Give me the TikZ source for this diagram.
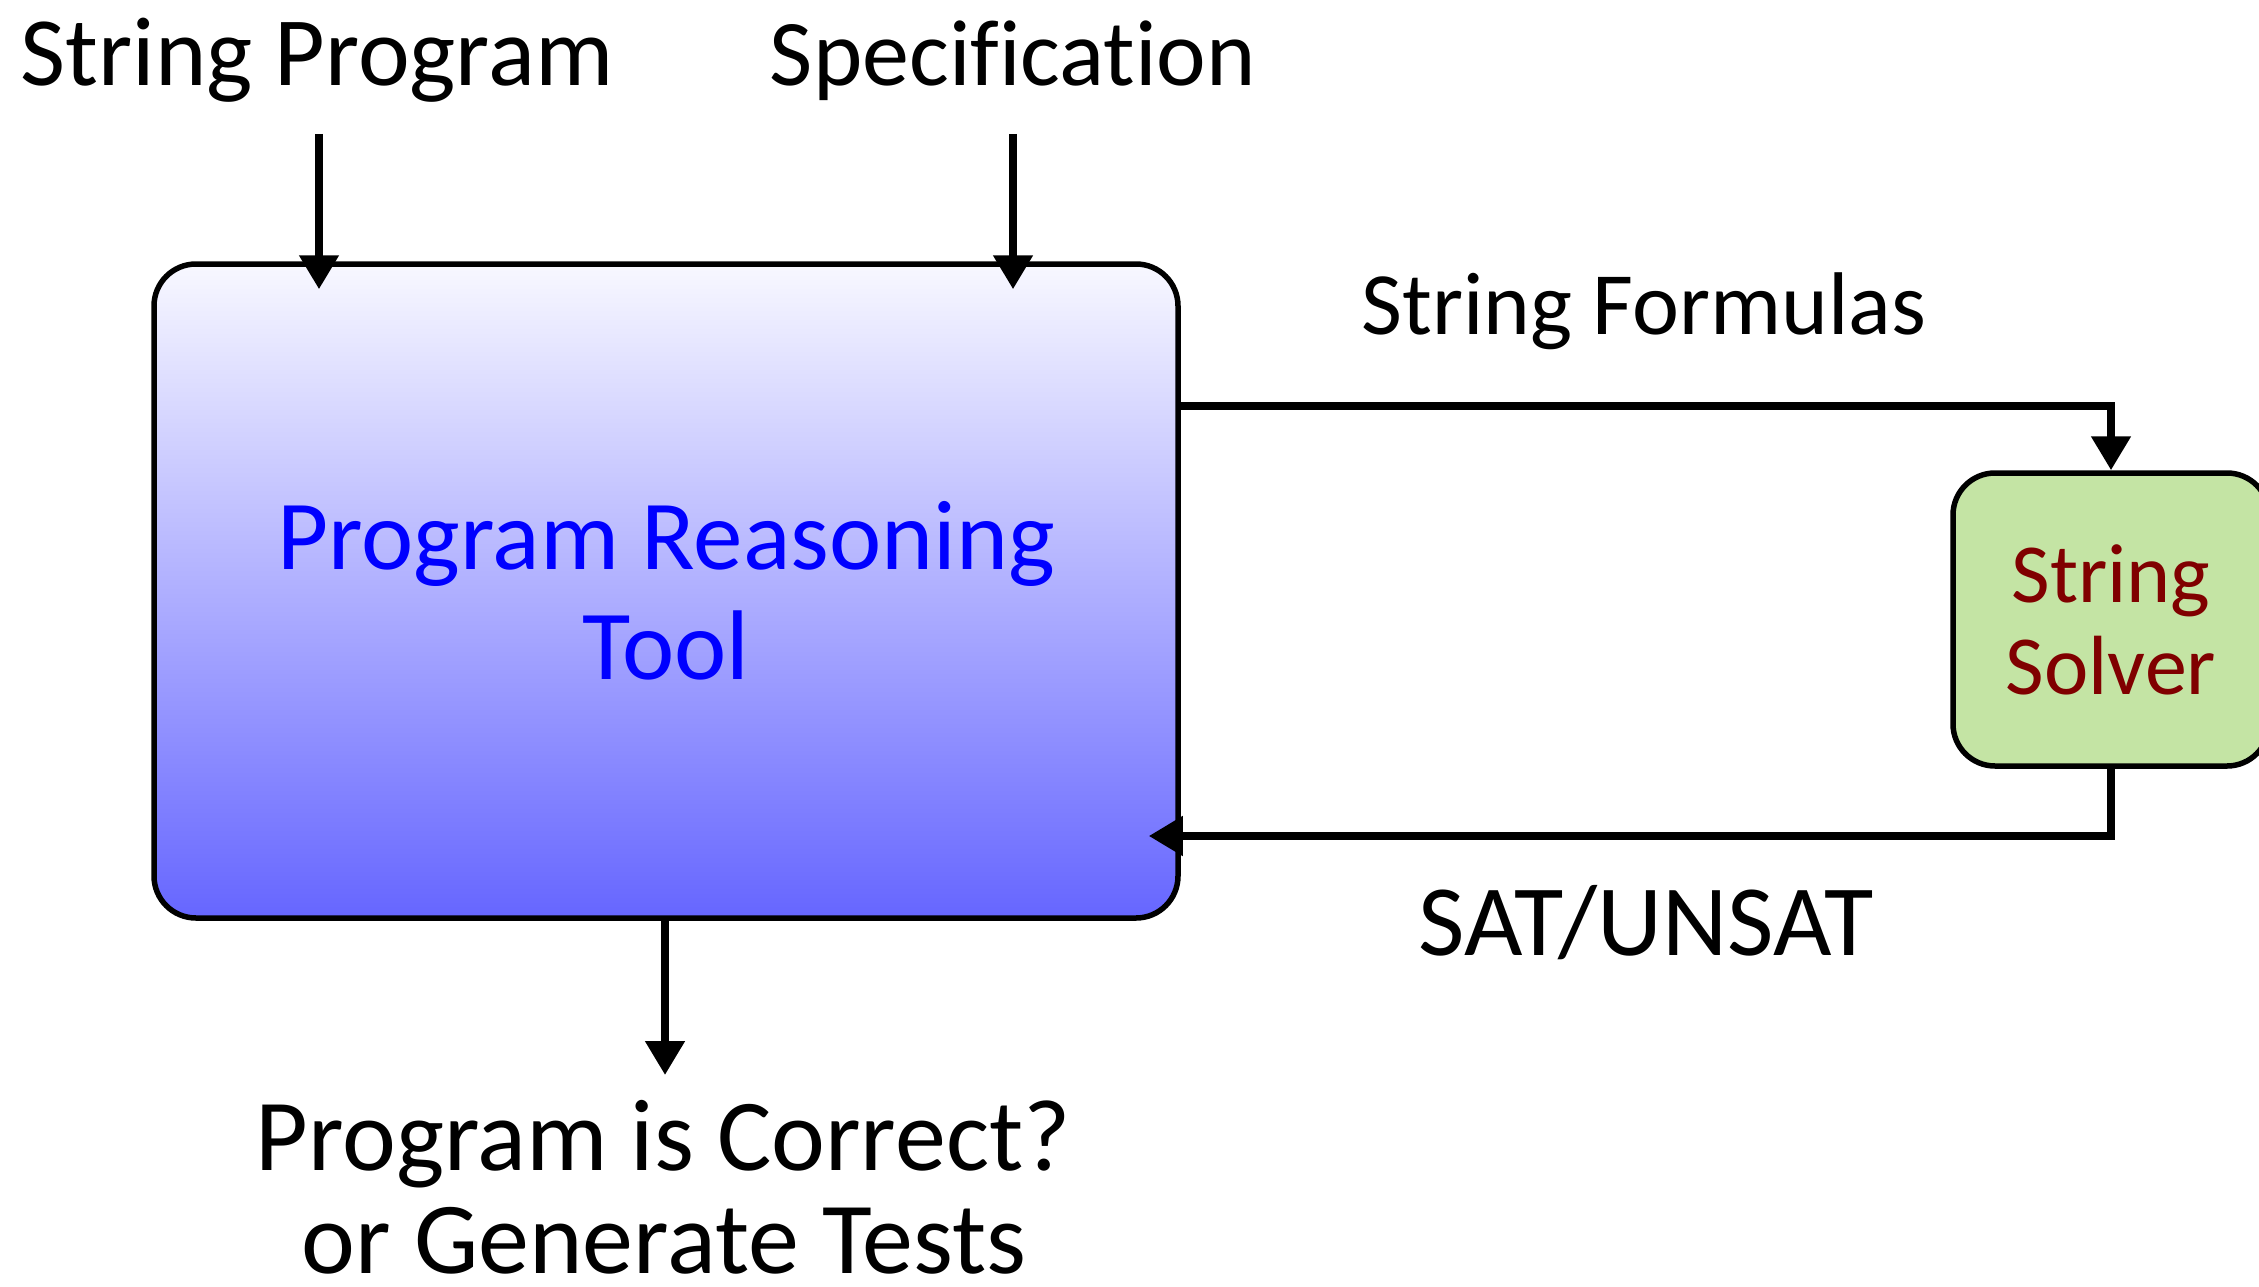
\documentclass[tikz,border=0pt]{standalone}
\usepackage{fontspec}
\setmainfont[Ligatures=NoCommon]{Carlito}
\usetikzlibrary{arrows.meta}
\definecolor{boxtop}{RGB}{248,248,255}
\definecolor{boxbot}{RGB}{102,102,255}
\definecolor{solverfill}{RGB}{196,228,164}
\definecolor{solvertext}{RGB}{128,0,0}
\definecolor{tooltext}{RGB}{0,0,255}
\begin{document}
\begin{tikzpicture}[x=1pt,y=-1pt,
  lbl/.style={font=\fontsize{98}{106}\selectfont, text=black, align=center, inner sep=0pt, anchor=base},
  conn/.style={line width=8pt, -{Triangle[length=34pt,width=38pt]}},
  toolbox/.style={draw=black, line width=5.5pt, rounded corners=42pt,
    top color=boxtop, bottom color=boxbot, minimum width=1024pt, minimum height=654pt,
    text=tooltext, align=center, font=\fontsize{99}{110}\selectfont, inner sep=0pt},
  solverbox/.style={draw=black, line width=5.5pt, rounded corners=42pt, fill=solverfill,
    minimum width=316pt, minimum height=293pt, text=solvertext, align=center,
    font=\fontsize{84}{92}\selectfont, inner sep=0pt}
]
\useasboundingbox (0,0) rectangle (2259,1287);
\begin{scope}
\clip (0,0) rectangle (2259,1287);
\node[toolbox] (main) at (666,591) {Program Reasoning\\Tool};
\node[solverbox] (solver) at (2111,619.5) {String\\Solver};
\end{scope}

\node[lbl] (prog) at (317,86) {String Program};
\node[lbl, font=\fontsize{94}{100}\selectfont] (spec) at (1013,86) {Specification};
\node[lbl, font=\fontsize{89}{100}\selectfont] (formulas) at (1644,334) {String Formulas};
\node[lbl, font=\fontsize{101}{100}\selectfont] (sat) at (1646,955) {SAT/UNSAT};
\node[lbl, font=\fontsize{102}{106}\selectfont] (res1) at (663,1170) {Program is Correct?};
\node[lbl, font=\fontsize{102}{106}\selectfont] (res2) at (664,1273) {or Generate Tests};

\coordinate (progstart) at (319,134);
\coordinate (specstart) at (1013,134);
\coordinate (outend) at (665,1075);

\draw[conn, shorten >=-28pt] (progstart) -- (progstart |- main.north);
\draw[conn, shorten >=-28pt] (specstart) -- (specstart |- main.north);
\draw[conn] (main.south -| outend) -- (outend);
\draw[conn] (main.east |- 0,406) -| (solver.north);
\draw[conn, shorten >=-32pt] (solver.south) |- (main.east |- 0,836);
\end{tikzpicture}
\end{document}
